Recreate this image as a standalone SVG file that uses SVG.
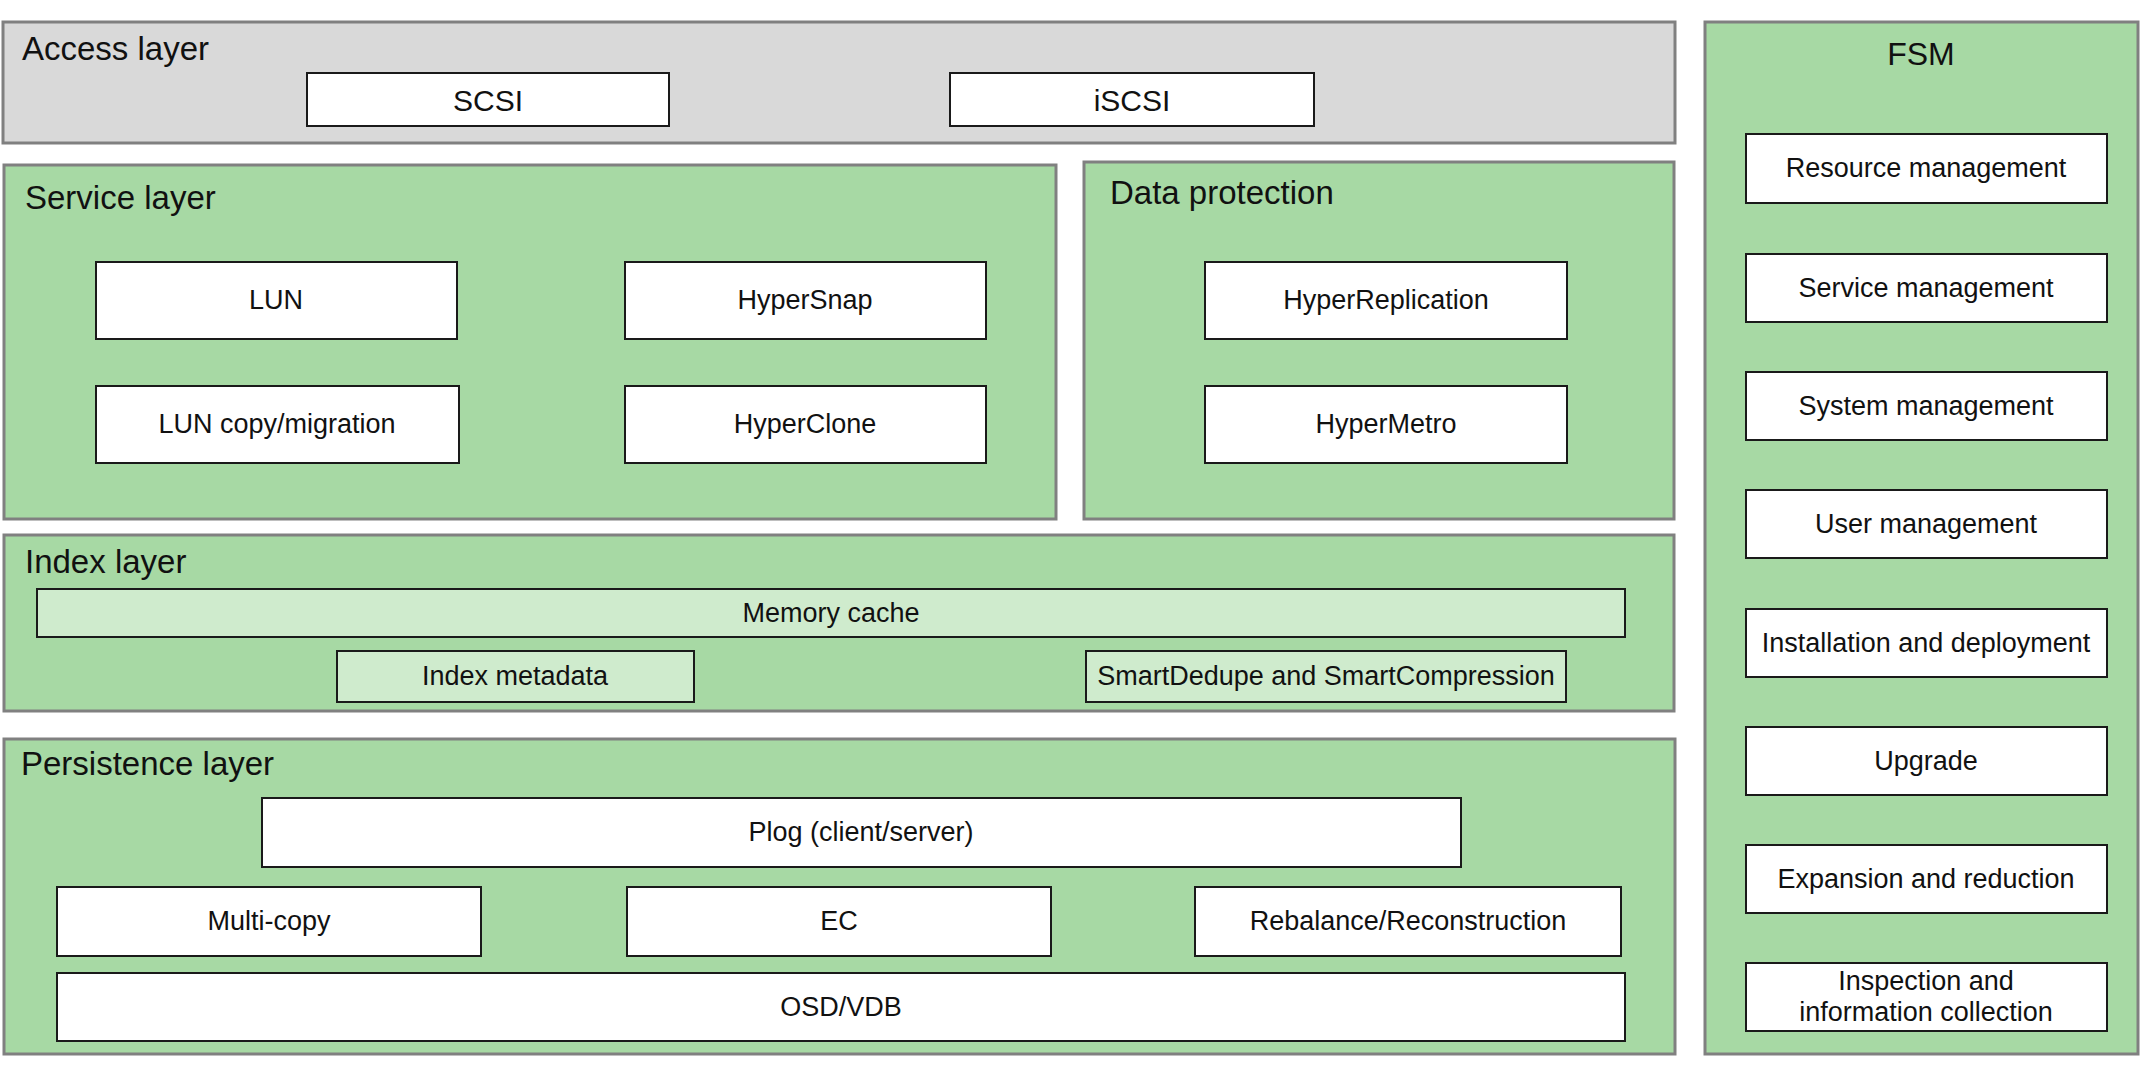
<svg xmlns="http://www.w3.org/2000/svg" width="2142" height="1078" viewBox="0 0 2142 1078">
<style>
  .layer { fill: #a7d9a4; stroke: #808080; stroke-width: 3; }
  .gray { fill: #d9d9d9; stroke: #808080; stroke-width: 3; }
  .box { fill: #ffffff; stroke: #1a1a1a; stroke-width: 2; }
  .lbox { fill: #cfebcd; stroke: #1a1a1a; stroke-width: 2; }
  .title { font-family: "Liberation Sans", Arial, sans-serif; font-size: 33px; fill: #111; }
  .lbl { font-family: "Liberation Sans", Arial, sans-serif; font-size: 27px; fill: #111; text-anchor: middle; dominant-baseline: central; }
  .big { font-size: 30px; }
</style>
<rect width="2142" height="1078" fill="#ffffff"/>

<g id="access-layer">
  <rect class="gray" x="3" y="22" width="1672" height="121"/>
  <text class="title" x="22" y="60">Access layer</text>
  <g id="scsi"><rect class="box" x="307" y="73" width="362" height="53"/><text class="lbl big" x="488" y="100">SCSI</text></g>
  <g id="iscsi"><rect class="box" x="950" y="73" width="364" height="53"/><text class="lbl big" x="1132" y="100">iSCSI</text></g>
</g>

<g id="service-layer">
  <rect class="layer" x="4" y="165" width="1052" height="354"/>
  <text class="title" x="25" y="209">Service layer</text>
  <g id="lun"><rect class="box" x="96" y="262" width="361" height="77"/><text class="lbl" x="276" y="300">LUN</text></g>
  <g id="hypersnap"><rect class="box" x="625" y="262" width="361" height="77"/><text class="lbl" x="805" y="300">HyperSnap</text></g>
  <g id="lun-copy"><rect class="box" x="96" y="386" width="363" height="77"/><text class="lbl" x="277" y="424">LUN copy/migration</text></g>
  <g id="hyperclone"><rect class="box" x="625" y="386" width="361" height="77"/><text class="lbl" x="805" y="424">HyperClone</text></g>
</g>

<g id="data-protection">
  <rect class="layer" x="1084" y="162" width="590" height="357"/>
  <text class="title" x="1110" y="204">Data protection</text>
  <g id="hyperreplication"><rect class="box" x="1205" y="262" width="362" height="77"/><text class="lbl" x="1386" y="300">HyperReplication</text></g>
  <g id="hypermetro"><rect class="box" x="1205" y="386" width="362" height="77"/><text class="lbl" x="1386" y="424">HyperMetro</text></g>
</g>

<g id="index-layer">
  <rect class="layer" x="4" y="535" width="1670" height="176"/>
  <text class="title" x="25" y="573">Index layer</text>
  <g id="memory-cache"><rect class="lbox" x="37" y="589" width="1588" height="48"/><text class="lbl" x="831" y="613">Memory cache</text></g>
  <g id="index-metadata"><rect class="lbox" x="337" y="651" width="357" height="51"/><text class="lbl" x="515" y="676">Index metadata</text></g>
  <g id="smartdedupe"><rect class="lbox" x="1086" y="651" width="480" height="51"/><text class="lbl" x="1326" y="676">SmartDedupe and SmartCompression</text></g>
</g>

<g id="persistence-layer">
  <rect class="layer" x="4" y="739" width="1671" height="315"/>
  <text class="title" x="21" y="775">Persistence layer</text>
  <g id="plog"><rect class="box" x="262" y="798" width="1199" height="69"/><text class="lbl" x="861" y="832">Plog (client/server)</text></g>
  <g id="multi-copy"><rect class="box" x="57" y="887" width="424" height="69"/><text class="lbl" x="269" y="921">Multi-copy</text></g>
  <g id="ec"><rect class="box" x="627" y="887" width="424" height="69"/><text class="lbl" x="839" y="921">EC</text></g>
  <g id="rebalance"><rect class="box" x="1195" y="887" width="426" height="69"/><text class="lbl" x="1408" y="921">Rebalance/Reconstruction</text></g>
  <g id="osd-vdb"><rect class="box" x="57" y="973" width="1568" height="68"/><text class="lbl" x="841" y="1007">OSD/VDB</text></g>
</g>

<g id="fsm">
  <rect class="layer" x="1705" y="22" width="433" height="1032"/>
  <text class="title" x="1921" y="65" text-anchor="middle" style="font-size:32px">FSM</text>
  <g id="resource-management"><rect class="box" x="1746" y="134" width="361" height="69"/><text class="lbl" x="1926" y="168">Resource management</text></g>
  <g id="service-management"><rect class="box" x="1746" y="254" width="361" height="68"/><text class="lbl" x="1926" y="288">Service management</text></g>
  <g id="system-management"><rect class="box" x="1746" y="372" width="361" height="68"/><text class="lbl" x="1926" y="406">System management</text></g>
  <g id="user-management"><rect class="box" x="1746" y="490" width="361" height="68"/><text class="lbl" x="1926" y="524">User management</text></g>
  <g id="installation"><rect class="box" x="1746" y="609" width="361" height="68"/><text class="lbl" x="1926" y="643">Installation and deployment</text></g>
  <g id="upgrade"><rect class="box" x="1746" y="727" width="361" height="68"/><text class="lbl" x="1926" y="761">Upgrade</text></g>
  <g id="expansion"><rect class="box" x="1746" y="845" width="361" height="68"/><text class="lbl" x="1926" y="879">Expansion and reduction</text></g>
  <g id="inspection"><rect class="box" x="1746" y="963" width="361" height="68"/>
    <text class="lbl" x="1926" y="981">Inspection and</text>
    <text class="lbl" x="1926" y="1012">information collection</text></g>
</g>

<g id="connectors"></g>
</svg>
